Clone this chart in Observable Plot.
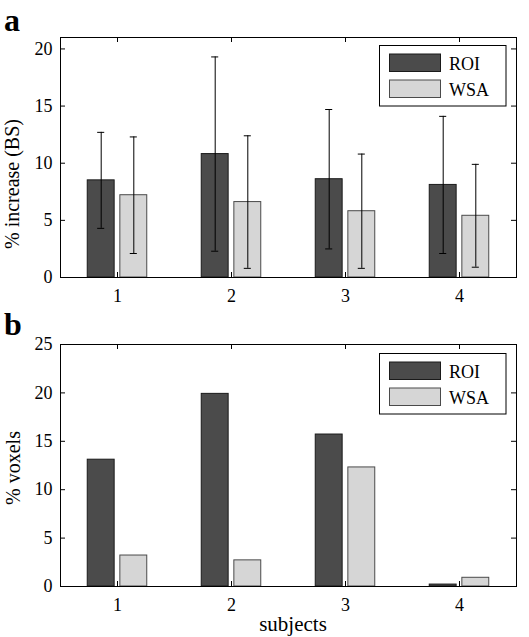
<!DOCTYPE html>
<html><head><meta charset="utf-8">
<script src="https://cdn.jsdelivr.net/npm/d3@7"></script>
<script src="https://cdn.jsdelivr.net/npm/@observablehq/plot@0.6"></script>
<style>
body{margin:0;background:#fff}
#chart{width:529px;height:637px}
#chart svg{display:block}
#chart svg, #chart svg text{font-family:"Liberation Serif","Times New Roman",serif !important}
</style>
</head><body><div id="chart"></div>
<script>
// ---- data ----
const subjects = [1, 2, 3, 4];
const seriesNames = ["ROI", "WSA"];
const seriesFills = ["#4b4b4b", "#d6d6d6"];
const seriesStrokes = ["#1a1a1a", "#4a4a4a"];

const roiIncrease = [8.5, 10.8, 8.6, 8.1];
const roiIncreaseErr = [4.2, 8.5, 6.1, 6.0];
const wsaIncrease = [7.2, 6.6, 5.8, 5.4];
const wsaIncreaseErr = [5.1, 5.8, 5.0, 4.5];

const roiVoxels = [13.1, 19.9, 15.7, 0.2];
const wsaVoxels = [3.2, 2.7, 12.3, 0.9];

const yTicksA = [0, 5, 10, 15, 20];
const yTicksB = [0, 5, 10, 15, 20, 25];

const yLabelA = "% increase (BS)";
const yLabelB = "% voxels";
const xLabelB = "subjects";

// ---- layout ----
const W = 529, ML = 60, MR = 13;
const groupOffset = 0.143, halfBar = 0.118, capHalf = 0.031;
const serif = '"Liberation Serif", "Times New Roman", serif';

function buildRows(roi, wsa, roiErr, wsaErr) {
  const rows = [];
  subjects.forEach((s, i) => {
    rows.push({subject: s, series: "ROI", si: 0, value: roi[i], err: roiErr ? roiErr[i] : null, xc: s - groupOffset});
    rows.push({subject: s, series: "WSA", si: 1, value: wsa[i], err: wsaErr ? wsaErr[i] : null, xc: s + groupOffset});
  });
  return rows;
}

function panel({rows, yDomain, yTicks, height, marginTop, marginBottom, withErr}) {
  const fw = W - ML - MR, fh = height - marginTop - marginBottom;
  const marks = [];
  seriesNames.forEach((name, si) => {
    marks.push(Plot.rectY(rows.filter(d => d.si === si), {
      x1: d => d.xc - halfBar, x2: d => d.xc + halfBar, y1: 0, y2: "value",
      fill: seriesFills[si], stroke: seriesStrokes[si], strokeWidth: 1
    }));
  });
  if (withErr) {
    marks.push(Plot.ruleX(rows, {x: "xc", y1: d => d.value - d.err, y2: d => d.value + d.err, stroke: "#000", strokeWidth: 1}));
    marks.push(Plot.ruleY(rows, {y: d => d.value + d.err, x1: d => d.xc - capHalf, x2: d => d.xc + capHalf, stroke: "#000", strokeWidth: 1}));
    marks.push(Plot.ruleY(rows, {y: d => d.value - d.err, x1: d => d.xc - capHalf, x2: d => d.xc + capHalf, stroke: "#000", strokeWidth: 1}));
  }
  // inward ticks on all four sides
  marks.push(Plot.ruleX(subjects, {x: d => d, insetTop: fh - 5, stroke: "#000"}));
  marks.push(Plot.ruleX(subjects, {x: d => d, insetBottom: fh - 5, stroke: "#000"}));
  marks.push(Plot.ruleY(yTicks, {y: d => d, insetRight: fw - 5, stroke: "#000"}));
  marks.push(Plot.ruleY(yTicks, {y: d => d, insetLeft: fw - 5, stroke: "#000"}));
  marks.push(Plot.frame({stroke: "#000", strokeWidth: 1}));
  marks.push(Plot.axisX({ticks: subjects, tickSize: 0, tickPadding: 12, tickFormat: d => String(d), label: null, fill: "#000"}));
  marks.push(Plot.axisY({ticks: yTicks, tickSize: 0, tickPadding: 8, tickFormat: d => String(d), label: null, fill: "#000"}));
  return Plot.plot({
    width: W, height, marginTop, marginBottom, marginLeft: ML, marginRight: MR,
    x: {type: "linear", domain: [0.5, 4.5]},
    y: {domain: yDomain},
    style: {fontFamily: serif, fontSize: "18px", color: "#000", background: "#fff", overflow: "visible"},
    marks
  });
}

function addYLabel(svg, text, cx, cy) {
  d3.select(svg).append("text").attr("transform", `translate(${cx},${cy}) rotate(-90)`)
    .attr("text-anchor", "middle").attr("dominant-baseline", "central").attr("font-size", 20).attr("fill", "#000").text(text);
}

function addLegend(svg, boxTop) {
  const g = d3.select(svg).append("g").attr("text-anchor", "start");
  g.append("rect").attr("x", 379.5).attr("y", boxTop).attr("width", 126.5).attr("height", 60.5)
    .attr("fill", "#fff").attr("stroke", "#000");
  seriesNames.forEach((name, i) => {
    const y = boxTop + 8.5 + i * 26;
    g.append("rect").attr("x", 389.5).attr("y", y).attr("width", 51).attr("height", 17.5)
      .attr("fill", seriesFills[i]).attr("stroke", seriesStrokes[i]);
    g.append("text").attr("x", 449).attr("y", y + 16).text(name)
      .attr("font-size", 18).attr("fill", "#000");
  });
}

function addLetter(svg, letter, baseline) {
  d3.select(svg).append("text").attr("x", 4).attr("y", baseline).attr("text-anchor", "start").text(letter)
    .attr("font-size", 32).attr("font-weight", "bold").attr("fill", "#000");
}

const rowsA = buildRows(roiIncrease, wsaIncrease, roiIncreaseErr, wsaIncreaseErr);
const rowsB = buildRows(roiVoxels, wsaVoxels);

const svgA = panel({rows: rowsA, yDomain: [0, 21], yTicks: yTicksA, height: 310, marginTop: 37, marginBottom: 33, withErr: true});
addYLabel(svgA, yLabelA, 12, 184);
addLegend(svgA, 45.5);
addLetter(svgA, "a", 30.5);

const svgB = panel({rows: rowsB, yDomain: [0, 25], yTicks: yTicksB, height: 327, marginTop: 34, marginBottom: 51, withErr: false});
addYLabel(svgB, yLabelB, 12.5, 158);
addLegend(svgB, 43.5);
addLetter(svgB, "b", 25);
d3.select(svgB).append("text").attr("x", 293).attr("y", 320.5).attr("text-anchor", "middle").text(xLabelB)
  .attr("font-size", 21).attr("fill", "#000");

document.getElementById("chart").append(svgA, svgB);
</script>
</body></html>
